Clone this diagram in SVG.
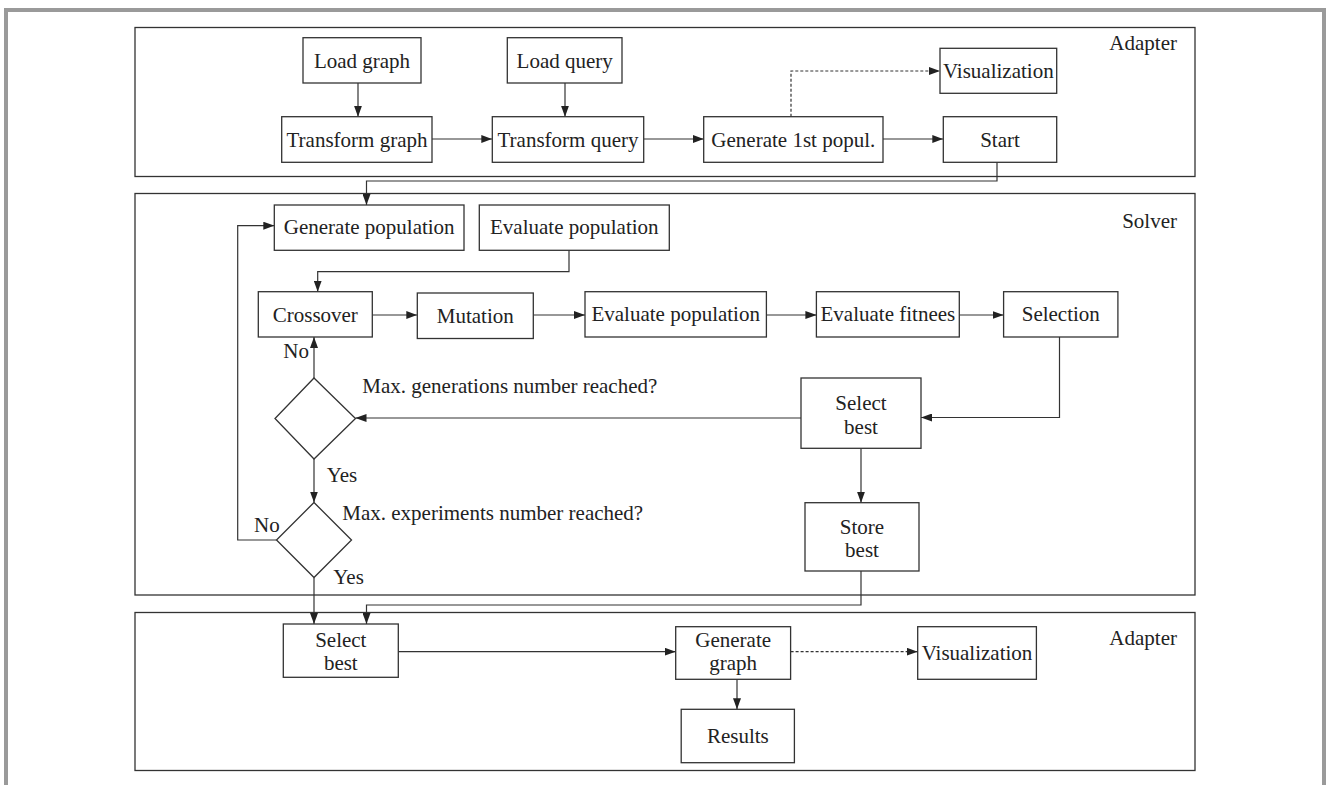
<svg xmlns="http://www.w3.org/2000/svg" width="1329" height="785" viewBox="0 0 1329 785">
<style>
.frame{fill:none;stroke:#9a9a9a;stroke-width:4}
.panel{fill:none;stroke:#333;stroke-width:1.3}
.box{fill:#fff;stroke:#333;stroke-width:1.3}
text{font-family:'Liberation Serif','DejaVu Serif',serif;font-size:21px;fill:#222}
.t{text-anchor:middle}
.r{text-anchor:end}
.c{fill:none;stroke:#333;stroke-width:1.2;marker-end:url(#ah)}
.d{fill:none;stroke:#333;stroke-width:1.2;stroke-dasharray:3,2;marker-end:url(#ah)}
</style>
<defs>
<marker id="ah" markerUnits="userSpaceOnUse" markerWidth="11" markerHeight="8" refX="11" refY="4" orient="auto">
<path d="M0,0 L11,4 L0,8 z" fill="#222"/>
</marker>
</defs>
<rect width="1329" height="785" fill="#fff"/>
<path class="frame" d="M6,790 V10 H1324 V790"/>

<g id="panel-adapter-top">
<rect class="panel" x="135" y="27.5" width="1060" height="149"/>
<text class="r" x="1177" y="50">Adapter</text>
</g>
<g id="panel-solver">
<rect class="panel" x="135" y="193.5" width="1060" height="401.5"/>
<text class="r" x="1177" y="228">Solver</text>
</g>
<g id="panel-adapter-bottom">
<rect class="panel" x="135" y="612.5" width="1060" height="158"/>
<text class="r" x="1177" y="645">Adapter</text>
</g>

<g id="connectors">
<path class="c" d="M358,83 V116.7"/>
<path class="c" d="M565,83 V116.7"/>
<path class="c" d="M432,139 H492.3"/>
<path class="c" d="M643.7,139 H703.7"/>
<path class="c" d="M883,139 H943.3"/>
<path class="d" d="M791,116.7 V71 H940"/>
<path class="c" d="M997,162.3 V181 H366.5 V205"/>
<path class="c" d="M569,250.3 V271.7 H317.7 V291.7"/>
<path class="c" d="M372.3,315 H417.3"/>
<path class="c" d="M533.3,315 H585"/>
<path class="c" d="M766.4,315 H816.4"/>
<path class="c" d="M959.3,315 H1003.6"/>
<path class="c" d="M1059.5,337 V417.5 H921"/>
<path class="c" d="M801,418 H355.5"/>
<path class="c" d="M314,378 V337"/>
<path class="c" d="M314,459 V502.5"/>
<path class="c" d="M276.5,540 H237.7 V225.7 H274.3"/>
<path class="c" d="M861,448 V502.7"/>
<path class="c" d="M314,577.5 V624"/>
<path class="c" d="M861,571 V605 H366.5 V624"/>
<path class="c" d="M398.3,651.7 H675.7"/>
<path class="d" d="M790.6,651.7 H917.7"/>
<path class="c" d="M737,679.3 V709.3"/>
</g>

<g id="load-graph"><rect class="box" x="303" y="37.7" width="118" height="45.3"/><text class="t" x="362" y="67.5">Load graph</text></g>
<g id="transform-graph"><rect class="box" x="281.7" y="116.7" width="150.3" height="45.6"/><text class="t" x="357" y="146.5">Transform graph</text></g>
<g id="load-query"><rect class="box" x="507.3" y="37.7" width="114.7" height="45.3"/><text class="t" x="564.7" y="67.5">Load query</text></g>
<g id="transform-query"><rect class="box" x="492.3" y="116.7" width="151.4" height="45.6"/><text class="t" x="568" y="146.5">Transform query</text></g>
<g id="generate-1st"><rect class="box" x="703.7" y="116.7" width="179.3" height="45.6"/><text class="t" x="793.3" y="146.5">Generate 1st popul.</text></g>
<g id="visualization-top"><rect class="box" x="940" y="48.3" width="116.7" height="45"/><text class="t" x="998.3" y="78">Visualization</text></g>
<g id="start"><rect class="box" x="943.3" y="116.7" width="113.4" height="45.6"/><text class="t" x="1000" y="146.5">Start</text></g>

<g id="generate-population"><rect class="box" x="274.3" y="205" width="189.7" height="45.3"/><text class="t" x="369.2" y="234">Generate population</text></g>
<g id="evaluate-population-1"><rect class="box" x="479.3" y="205" width="190" height="45.3"/><text class="t" x="574.3" y="234">Evaluate population</text></g>
<g id="crossover"><rect class="box" x="258.3" y="291.7" width="114" height="45.3"/><text class="t" x="315.3" y="321.5">Crossover</text></g>
<g id="mutation"><rect class="box" x="417.3" y="293" width="116" height="45.5"/><text class="t" x="475.3" y="322.5">Mutation</text></g>
<g id="evaluate-population-2"><rect class="box" x="585" y="291.7" width="181.4" height="45.3"/><text class="t" x="675.7" y="321">Evaluate population</text></g>
<g id="evaluate-fitnees"><rect class="box" x="816.4" y="291.7" width="142.9" height="45.3"/><text class="t" x="887.9" y="321">Evaluate fitnees</text></g>
<g id="selection"><rect class="box" x="1003.6" y="291.7" width="114.3" height="45.3"/><text class="t" x="1060.8" y="321">Selection</text></g>
<g id="select-best-1"><rect class="box" x="801" y="378" width="120" height="70.3"/><text class="t" x="861" y="410">Select</text><text class="t" x="861" y="433.5">best</text></g>
<g id="store-best"><rect class="box" x="805" y="502.7" width="114" height="68.3"/><text class="t" x="862" y="533.5">Store</text><text class="t" x="862" y="557">best</text></g>

<g id="decision-generations">
<polygon class="box" points="314,378 355.5,418.5 314,459 275,418.5"/>
<text x="362.3" y="393.3">Max. generations number reached?</text>
<text x="283.3" y="358.3">No</text>
<text x="326.7" y="481.7">Yes</text>
</g>
<g id="decision-experiments">
<polygon class="box" points="314,502.5 351.5,540 314,577.5 276.5,540"/>
<text x="342.3" y="520">Max. experiments number reached?</text>
<text x="254" y="531.7">No</text>
<text x="333.3" y="584">Yes</text>
</g>

<g id="select-best-2"><rect class="box" x="283.3" y="624" width="115" height="53.3"/><text class="t" x="340.8" y="647">Select</text><text class="t" x="340.8" y="670">best</text></g>
<g id="generate-graph"><rect class="box" x="675.7" y="626.7" width="114.9" height="52.6"/><text class="t" x="733.2" y="646.5">Generate</text><text class="t" x="733.2" y="670">graph</text></g>
<g id="visualization-bottom"><rect class="box" x="917.7" y="626.7" width="118.7" height="52.6"/><text class="t" x="977" y="660">Visualization</text></g>
<g id="results"><rect class="box" x="681.2" y="709.3" width="113.2" height="53.4"/><text class="t" x="737.8" y="743">Results</text></g>
</svg>
